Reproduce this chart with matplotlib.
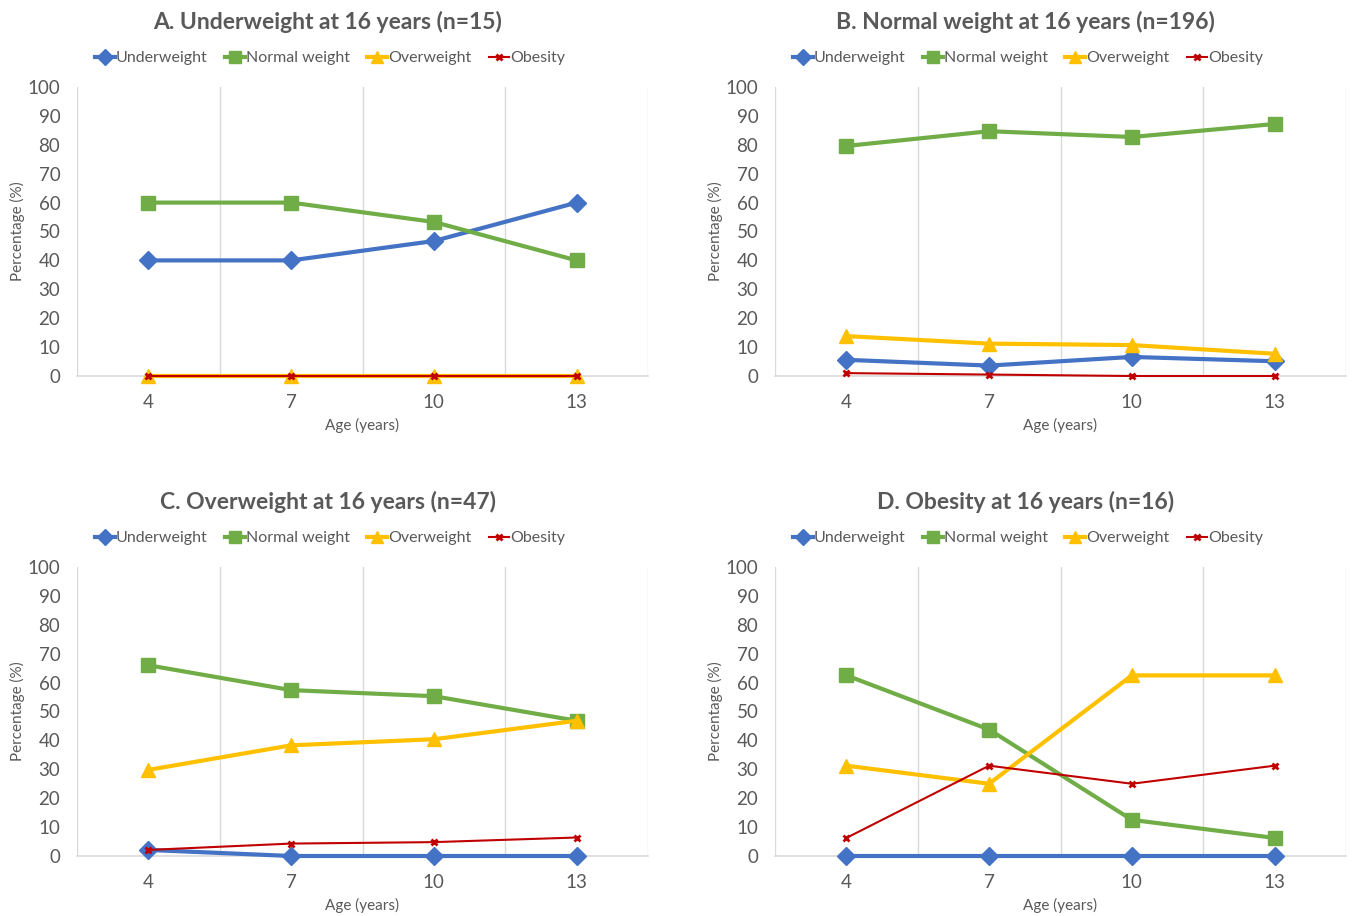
import matplotlib.pyplot as plt
from matplotlib.lines import Line2D

plt.rcParams['font.family'] = ['Lato', 'DejaVu Sans']

ages = ["4", "7", "10", "13"]
series_names = ["Underweight", "Normal weight", "Overweight", "Obesity"]

titles = ["A. Underweight at 16 years (n=15)",
          "B. Normal weight at 16 years (n=196)",
          "C. Overweight at 16 years (n=47)",
          "D. Obesity at 16 years (n=16)"]

# values per panel: underweight, normal, overweight, obesity
a_under = [40, 40, 46.7, 60]
a_normal = [60, 60, 53.3, 40]
a_over = [0, 0, 0, 0]
a_obese = [0, 0, 0, 0]

b_under = [5.6, 3.6, 6.6, 5.1]
b_normal = [79.6, 84.7, 82.7, 87.2]
b_over = [13.8, 11.2, 10.7, 7.7]
b_obese = [1.0, 0.5, 0, 0]

c_under = [2.1, 0, 0, 0]
c_normal = [66.0, 57.4, 55.3, 46.8]
c_over = [29.8, 38.3, 40.4, 46.8]
c_obese = [2.1, 4.3, 4.8, 6.4]

d_under = [0, 0, 0, 0]
d_normal = [62.5, 43.75, 12.5, 6.25]
d_over = [31.25, 25, 62.5, 62.5]
d_obese = [6.25, 31.25, 25, 31.25]

panels = [
    (a_under, a_normal, a_over, a_obese),
    (b_under, b_normal, b_over, b_obese),
    (c_under, c_normal, c_over, c_obese),
    (d_under, d_normal, d_over, d_obese),
]

colors = ["#4472C4", "#70AD47", "#FFC000", "#C00000"]
markers = ["D", "s", "^", "x"]
msizes = [9, 10, 10, 5]
lwidths = [3, 3, 3, 1.5]
text_gray = "#595959"
grid_gray = "#D9D9D9"

fig = plt.figure(figsize=(13.54, 9.16), dpi=100)

W, H = 1354, 916
boxes = [(77, 87), (775, 87), (77, 567), (775, 567)]
pw, ph = 571, 289

x = list(range(len(ages)))

for k, (bx, by) in enumerate(boxes):
    ax = fig.add_axes([bx / W, 1 - (by + ph) / H, pw / W, ph / H])
    for i, vals in enumerate(panels[k]):
        ax.plot(x, vals, color=colors[i], marker=markers[i], markersize=msizes[i],
                linewidth=lwidths[i], markeredgewidth=2 if markers[i] == "x" else 1,
                label=series_names[i], clip_on=False, zorder=3 + i * 0.1)
    ax.set_xlim(-0.5, 3.5)
    ax.set_ylim(0, 100)
    ax.set_yticks(range(0, 101, 10))
    ax.set_xticks(x)
    ax.set_xticklabels(ages)
    for gx in [-0.5, 0.5, 1.5, 2.5, 3.5]:
        ax.axvline(gx, color=grid_gray, linewidth=1, zorder=1)
    for s in ["top", "right", "left"]:
        ax.spines[s].set_visible(False)
    ax.spines["bottom"].set_color(grid_gray)
    ax.spines["bottom"].set_linewidth(1.2)
    ax.tick_params(length=0, labelsize=13.5, labelcolor=text_gray)
    ax.tick_params(axis="x", pad=13)
    ax.tick_params(axis="y", pad=12)
    ax.set_xlabel("Age (years)", fontsize=11, color=text_gray, labelpad=5)
    ax.set_ylabel("Percentage (%)", fontsize=11, color=text_gray)
    ax.yaxis.set_label_coords(-52 / pw, 0.5)
    ax.text(0.5 - 35 / pw, 1 + 65 / ph, titles[k], transform=ax.transAxes, ha="center",
            va="center", fontsize=16.5, fontweight="bold", color=text_gray)
    handles = [Line2D([0], [0], color=colors[i], marker=markers[i], markersize=msizes[i] - 1,
                      linewidth=lwidths[i], markeredgewidth=2 if markers[i] == "x" else 1)
               for i in range(4)]
    leg = ax.legend(handles, series_names, loc="center left",
                    bbox_to_anchor=(18 / pw, 1 + 29 / ph),
                    ncol=4, frameon=False, fontsize=11.5, handlelength=1.25,
                    handletextpad=0.05, columnspacing=1.1, borderaxespad=0, borderpad=0)
    for t in leg.get_texts():
        t.set_color(text_gray)

plt.savefig("out.png", dpi=100)
